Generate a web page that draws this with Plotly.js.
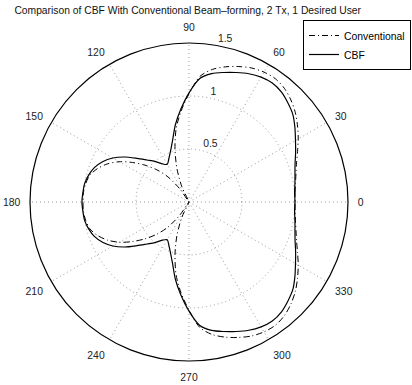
<!DOCTYPE html>
<html>
<head>
<meta charset="utf-8">
<script src="https://cdn.plot.ly/plotly-3.0.1.min.js"></script>
<style>html,body{margin:0;padding:0;background:#fff;}#chart{width:412px;height:385px;}</style>
</head>
<body>
<div id="chart"></div>
<script>
// Angles in degrees (0..360, step 5)
var angles = [0,5,10,15,20,25,30,35,40,45,50,55,60,65,70,75,80,85,90,95,100,105,110,115,120,125,130,135,140,145,150,155,160,165,170,175,180,
  185,190,195,200,205,210,215,220,225,230,235,240,245,250,255,260,265,270,275,280,285,290,295,300,305,310,315,320,325,330,335,340,345,350,355,360];

// Conventional beamforming pattern
var conventional = [1.00,1.005,1.02,1.045,1.08,1.13,1.19,1.25,1.31,1.36,1.40,1.42,1.415,1.395,1.36,1.32,1.27,1.19,1.02,0.86,0.70,0.51,0.33,0.16,0.00,0.15,0.31,0.43,0.54,0.65,0.76,0.85,0.92,0.97,0.99,1.00,1.00,
  1.00,0.99,0.97,0.92,0.85,0.76,0.65,0.54,0.43,0.31,0.15,0.00,0.16,0.33,0.51,0.70,0.86,1.02,1.19,1.27,1.32,1.36,1.395,1.415,1.42,1.40,1.36,1.31,1.25,1.19,1.13,1.08,1.045,1.02,1.005,1.00];

// CBF pattern
var cbf = [1.00,1.00,1.015,1.035,1.065,1.11,1.16,1.22,1.28,1.32,1.355,1.37,1.36,1.335,1.30,1.265,1.23,1.17,1.03,0.88,0.74,0.60,0.51,0.45,0.41,0.44,0.50,0.56,0.64,0.74,0.83,0.90,0.95,0.98,1.00,1.005,1.01,
  1.005,1.00,0.98,0.95,0.90,0.83,0.74,0.64,0.56,0.50,0.44,0.41,0.45,0.51,0.60,0.74,0.88,1.03,1.17,1.23,1.265,1.30,1.335,1.36,1.37,1.355,1.32,1.28,1.22,1.16,1.11,1.065,1.035,1.015,1.00,1.00];

var angTicks = [0,30,60,90,120,150,180,210,240,270,300,330];
var angTickText = ['0','30','60','90','120','150','180','210','240','270','300','330'];
var radTicks = [0.5,1,1.5];
var radTickText = ['0.5','1','1.5'];

var FONT = 'Liberation Sans, Arial, Helvetica, sans-serif';

var traces = [
  {type:'scatterpolar', mode:'lines', name:'Conventional', r:conventional, theta:angles,
   line:{color:'#000', width:1, dash:'6px,3px,1px,3px', shape:'spline', smoothing:0.8}},
  {type:'scatterpolar', mode:'lines', name:'CBF', r:cbf, theta:angles,
   line:{color:'#000', width:1.2, dash:'solid', shape:'spline', smoothing:0.8}},
  // empty trace that only carries the overlay polar used for the radial tick labels
  {type:'scatterpolar', mode:'lines', r:[], theta:[], subplot:'polar2', showlegend:false, hoverinfo:'skip'}
];

var layout = {
  width:412, height:385,
  paper_bgcolor:'#fff', plot_bgcolor:'#fff',
  margin:{l:10, r:10, t:20, b:10, autoexpand:false},
  font:{family:FONT, size:10, color:'#000'},
  title:{text:'Comparison of CBF With Conventional Beam\u2013forming, 2 Tx, 1 Desired User',
         xref:'container', x:0.035, xanchor:'left', yref:'container', y:0.974, yanchor:'middle',
         font:{family:FONT, size:10.3, color:'#111'}},
  showlegend:true,
  legend:{x:1.023, y:1.0, xanchor:'right', yanchor:'top', xref:'paper', yref:'paper',
          bgcolor:'#fff', bordercolor:'#000', borderwidth:1,
          font:{family:FONT, size:10.4, color:'#000'}, tracegroupgap:0, itemwidth:30},
  polar:{
    domain:{x:[0.05102,0.86224], y:[0.03944,0.93521]},
    bgcolor:'#fff',
    radialaxis:{range:[0,1.5], tickvals:radTicks, showticklabels:false,
                showline:false, ticks:'', gridcolor:'#999', griddash:'1px,3px', gridwidth:1},
    angularaxis:{direction:'counterclockwise', rotation:0, tickvals:angTicks, ticktext:angTickText,
                 showline:true, linecolor:'#000', linewidth:1.2,
                 gridcolor:'#999', griddash:'1px,3px', gridwidth:1,
                 ticks:'outside', ticklen:7, tickcolor:'rgba(0,0,0,0)',
                 tickfont:{family:FONT, size:10.4, color:'#222'}}
  },
  polar2:{
    domain:{x:[0.02092,0.89235], y:[0.0062,0.96845]},
    bgcolor:'rgba(0,0,0,0)',
    radialaxis:{range:[-0.078,1.533], tickvals:radTicks, ticktext:radTickText, angle:82, side:'clockwise',
                tickangle:82, showline:false, showgrid:false, ticks:'',
                tickfont:{family:FONT, size:10.4, color:'#222'}},
    angularaxis:{visible:false, showline:false, showgrid:false, showticklabels:false, ticks:''}
  }
};

Plotly.newPlot('chart', traces, layout, {displayModeBar:false, staticPlot:true});
</script>
</body>
</html>
